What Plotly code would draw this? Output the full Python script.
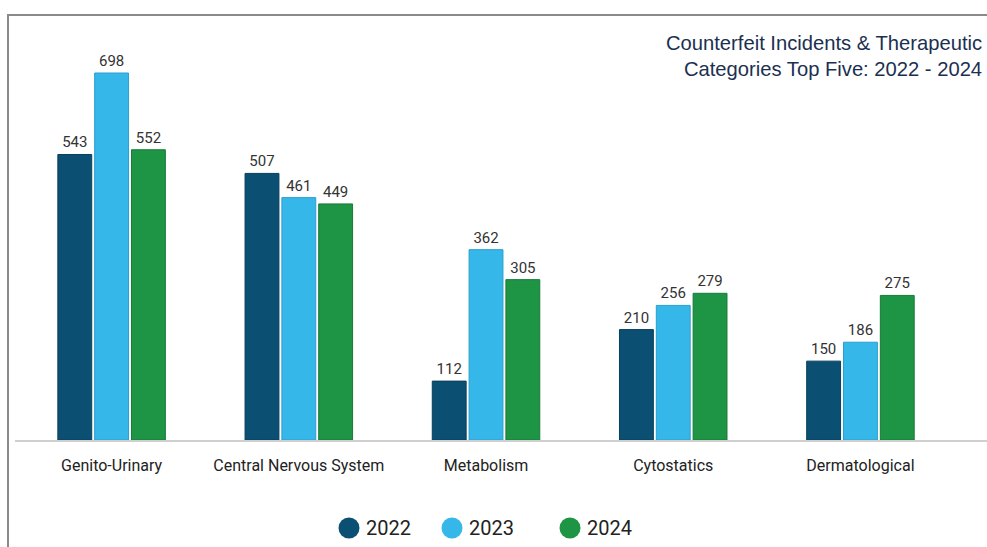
import plotly.graph_objects as go

# Therapeutic categories and incident counts per year
categories = ["Genito-Urinary", "Central Nervous System", "Metabolism", "Cytostatics", "Dermatological"]
years = ["2022", "2023", "2024"]
incidents_2022 = [543, 507, 112, 210, 150]
incidents_2023 = [698, 461, 362, 256, 186]
incidents_2024 = [552, 449, 305, 279, 275]

series = [incidents_2022, incidents_2023, incidents_2024]
fill_colors = ["#0b4f72", "#36b7ea", "#1e9445"]
edge_colors = ["#083f5c", "#2a9fce", "#177a38"]

W, H = 987, 547
ML, MR, MT, MB = 15, 0, 15, 107

fig = go.Figure()
for name, vals, fc, ec in zip(years, series, fill_colors, edge_colors):
    fig.add_trace(go.Bar(
        x=categories, y=vals, name=name,
        marker=dict(color=fc, line=dict(color=ec, width=1)),
        text=[str(v) for v in vals], textposition="outside",
        textfont=dict(family="Roboto, sans-serif", size=15, color="#333333"),
        cliponaxis=False, showlegend=False,
    ))

# Custom legend: round swatches with year labels, centred under the chart
plot_w = W - ML - MR
plot_h = H - MT - MB

def px_to_paper_x(px):
    return (px - ML) / plot_w

def px_to_paper_y(py):
    return (H - MB - py) / plot_h

shapes = []
annotations = []
legend_y = 528
swatch_x = [349, 452, 570]
for name, fc, cx in zip(years, fill_colors, swatch_x):
    shapes.append(dict(
        type="circle", xref="paper", yref="paper",
        xsizemode="pixel", ysizemode="pixel",
        xanchor=px_to_paper_x(cx), yanchor=px_to_paper_y(legend_y),
        x0=-10.5, x1=10.5, y0=-10.5, y1=10.5,
        fillcolor=fc, line=dict(width=0),
    ))
    annotations.append(dict(
        xref="paper", yref="paper",
        x=px_to_paper_x(cx + 15), y=px_to_paper_y(legend_y),
        xanchor="left", yanchor="middle", showarrow=False,
        text=name, font=dict(family="Roboto, sans-serif", size=20, color="#222222"),
    ))

# Frame lines along the top and left edge
shapes.append(dict(type="line", xref="paper", yref="paper",
                   x0=px_to_paper_x(8), x1=px_to_paper_x(W + 5),
                   y0=px_to_paper_y(15), y1=px_to_paper_y(15),
                   line=dict(color="#8a8a8a", width=2)))
shapes.append(dict(type="line", xref="paper", yref="paper",
                   x0=px_to_paper_x(8), x1=px_to_paper_x(8),
                   y0=px_to_paper_y(14), y1=px_to_paper_y(H + 5),
                   line=dict(color="#8a8a8a", width=2)))

# Title, right-aligned in the top-right corner
annotations.append(dict(
    xref="paper", yref="paper",
    x=px_to_paper_x(984), y=px_to_paper_y(30),
    xanchor="right", yanchor="top", align="right", showarrow=False,
    text="Counterfeit Incidents & Therapeutic<br>Categories Top Five: 2022 - 2024",
    font=dict(family="Liberation Sans, Arial, sans-serif", size=20.2, color="#1b3050"),
))

fig.update_layout(
    width=W, height=H,
    margin=dict(l=ML, r=MR, t=MT, b=MB),
    paper_bgcolor="white", plot_bgcolor="white",
    barmode="group", bargap=0.41, bargroupgap=0.08,
    shapes=shapes, annotations=annotations,
    showlegend=False,
    xaxis=dict(
        type="category", range=[-0.516, 4.676],
        showline=True, linecolor="#cfcfcf", linewidth=2,
        showgrid=False, ticks="outside", ticklen=10, tickcolor="rgba(0,0,0,0)",
        tickfont=dict(family="Roboto, sans-serif", size=16, color="#222222"),
    ),
    yaxis=dict(
        range=[0, 808.3], visible=False, showgrid=False, zeroline=False,
    ),
)

fig.write_html("out.html")
